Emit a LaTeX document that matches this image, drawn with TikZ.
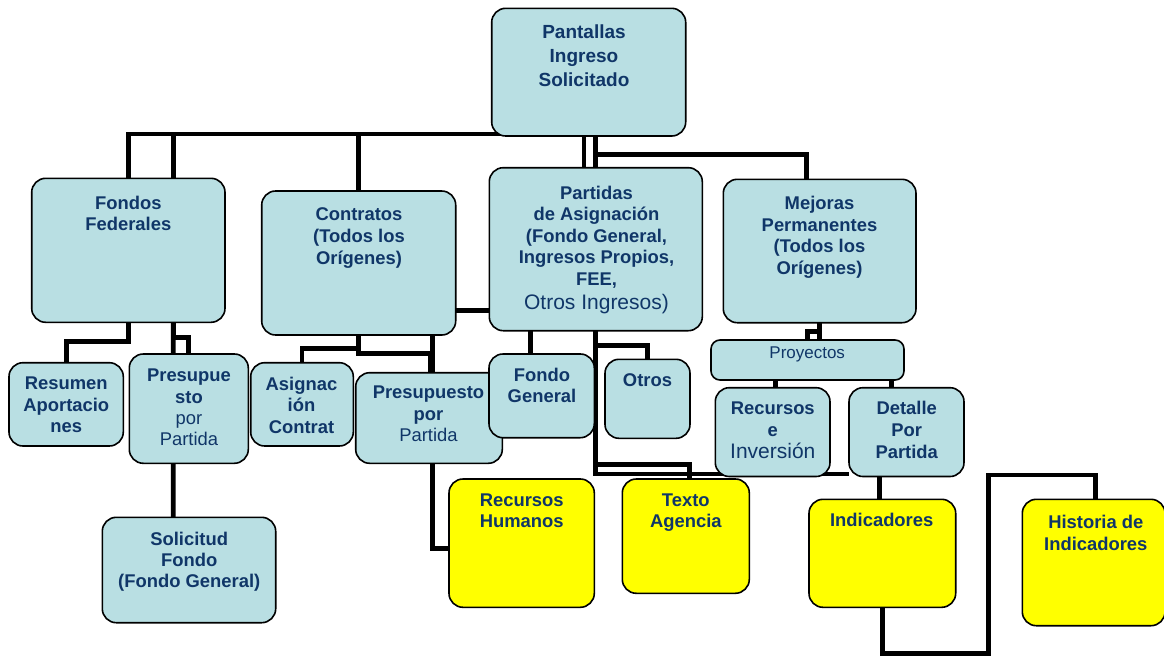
\documentclass[tikz,border=0pt]{standalone}
\usepackage{fontspec}
\setmainfont{Liberation Sans}
\usetikzlibrary{fit,backgrounds}
\definecolor{boxblue}{RGB}{185,223,227}
\definecolor{navy}{RGB}{16,54,104}
\definecolor{hiyellow}{RGB}{255,255,0}
\tikzset{
  bbox/.style={draw=black, line width=1.6pt, rounded corners=14pt, fill=boxblue, inner sep=0pt, outer sep=0pt},
  ybox/.style={bbox, fill=hiyellow},
  txt/.style={text=navy, align=center, inner sep=0pt, anchor=north, font=\bfseries\fontsize{18.4}{21.7}\selectfont},
  conn/.style={line width=4.8pt, draw=black},
}
\begin{document}
\begin{tikzpicture}[x=1pt,y=-1pt]
\useasboundingbox (0,0) rectangle (1164,656);
% boxes
\node[bbox, fit={(491.7,8.3) (685.7,136)}] (pan) {};
\node[bbox, fit={(31.7,178.3) (225,322.3)}] (ff) {};
\node[bbox, fit={(261.7,191) (455.7,335)}] (con) {};
\node[bbox, fit={(489.3,167.7) (702.3,330.7)}] (par) {};
\node[bbox, fit={(723.3,179.3) (916,322.7)}] (mej) {};
\node[bbox, fit={(9,362.7) (123.3,446)}] (res) {};
\node[bbox, fit={(129.3,354) (248.3,463.3)}] (ppl) {};
\node[bbox, fit={(250.7,362.7) (353.3,446)}] (asg) {};
\node[bbox, fit={(355.7,372.7) (502.3,463.3)}] (ppm) {};
\node[bbox, fit={(102.3,517.3) (275.7,622.7)}] (sol) {};
\node[bbox, fit={(489,354) (594.3,437.7)}] (fg) {};
\node[bbox, fit={(605,359.3) (690,438.3)}] (otr) {};
\node[bbox, rounded corners=9pt, fit={(711,340) (904,380)}] (pry) {};
\node[bbox, fit={(715.3,387.7) (830,476.5)}] (rei) {};
\node[bbox, fit={(849,387.7) (964,476.5)}] (det) {};
\node[ybox, fit={(449,479) (594.3,607.3)}] (rh) {};
\node[ybox, fit={(622.3,479) (749.3,593.3)}] (ta) {};
\node[ybox, fit={(809,499.3) (955.7,607.3)}] (ind) {};
\node[ybox, fit={(1022.3,499.3) (1165,625.7)}] (his) {};
% texts
\node[txt, font=\bfseries\fontsize{19}{24}\selectfont] (pan-t) at (584,25) {Pantallas\\Ingreso\\Solicitado};
\node[txt, font=\bfseries\fontsize{18.4}{21}\selectfont] (ff-t) at (128.3,196) {Fondos\\Federales};
\node[txt] (con-t) at (359,207.7) {Contratos\\(Todos los\\Orígenes)};
\node[txt, font=\bfseries\fontsize{18.4}{21.5}\selectfont] (par-t) at (596.5,185.7) {Partidas\\de Asignación\\(Fondo General,\\Ingresos Propios,\\FEE,\\[2.5pt]{\mdseries\fontsize{21}{21.5}\selectfont Otros Ingresos)}};
\node[txt] (mej-t) at (819.5,196) {Mejoras\\Permanentes\\(Todos los\\Orígenes)};
\node[txt] (res-t) at (66.3,376.7) {Resumen\\Aportacio\\nes};
\node[txt, font=\bfseries\fontsize{18.4}{21.3}\selectfont] (ppl-t) at (189,369) {Presupue\\sto\\{\mdseries por}\\{\mdseries Partida}};
\node[txt] (asg-t) at (301.5,376.7) {Asignac\\ión\\Contrat};
\node[txt] (ppm-t) at (428.5,385.7) {Presupuesto\\por\\{\mdseries Partida}};
\node[txt, font=\bfseries\fontsize{18.4}{21.3}\selectfont] (sol-t) at (189.2,531.7) {Solicitud\\Fondo\\(Fondo General)};
\node[txt] (rh-t) at (521.7,493.3) {Recursos\\Humanos};
\node[txt, font=\bfseries\fontsize{18.4}{21}\selectfont] (fg-t) at (542,367.7) {Fondo\\General};
\node[txt] (otr-t) at (647.5,373.3) {Otros};
\node[txt, font=\fontsize{17}{20}\selectfont] (pry-t) at (807.2,346.7) {Proyectos};
\node[txt, font=\bfseries\fontsize{18.4}{21.5}\selectfont] (rei-t) at (772.8,401.7) {Recursos\\e\\[1pt]{\mdseries\fontsize{21}{21.5}\selectfont Inversión}};
\node[txt, font=\bfseries\fontsize{18.4}{22}\selectfont] (det-t) at (906.7,401) {Detalle\\Por\\Partida};
\node[txt] (ta-t) at (685.8,493.3) {Texto\\Agencia};
\node[txt] (ind-t) at (881.7,513.3) {Indicadores};
\node[txt] (his-t) at (1095.8,515) {Historia de\\Indicadores};
% connectors
\begin{scope}[on background layer]
\draw[conn] ([yshift=2pt]pan.south) -| (ff.north);
\draw[conn] ([yshift=2pt]pan.south) -| ([xshift=45pt]ff.north);
\draw[conn] ([yshift=2pt]pan.south) -| (con.north);
\draw[conn] ([xshift=-4.7pt]pan.south) -- ++(0,31.7);
\draw[conn] (par.north |- pan.south) -- (par.north);
\draw[conn] (par.north |- pan.south) -- ++(0,18.5) -| ([xshift=-13.5pt]mej.north);
\draw[conn] ([yshift=-47.5pt]con.east) -- ([yshift=-61.3pt]par.west);
\draw[conn] (ff.south) -- ++(0,19.5) -| (res.north);
\draw[conn] ([xshift=45pt]ff.south) -- ++(0,15) -| (ppl.north);
\draw[conn] ([xshift=45pt]ff.south) -- ([xshift=-15.5pt]ppl.north);
\draw[conn] ([xshift=-15.5pt]ppl.south) -- ([xshift=-15.8pt]sol.north);
\draw[conn] (con.south) -- ++(0,13.8) -| (asg.north);
\draw[conn] (con.south) -- ++(0,18.5) -| ([xshift=1.5pt]ppm.north);
\draw[conn] ([xshift=73.8pt]con.south) -- ([xshift=3.5pt]ppm.north);
\draw[conn] ([xshift=3.8pt]ppm.south) |- ([yshift=-5pt]rh.west);
\draw[conn] ([xshift=-65.6pt]par.south) -- ([xshift=-11.45pt]fg.north);
\draw[conn] (par.south) -- ++(0,14.5) -| (otr.north);
\draw[conn] (par.south) -- ++(0,133.5) -| ([xshift=3.9pt]ta.north);
\draw[conn] (par.south) |- ([yshift=2.5pt]det.south west);
\draw[conn] (mej.south) -- (mej.south |- pry.north);
\draw[conn] (mej.south) -- ++(0,8.5) -| (pry.north);
\draw[conn] ([xshift=-31.85pt]pry.south) -- ([xshift=3pt]rei.north);
\draw[conn] ([xshift=84.3pt]pry.south) -- ([xshift=-14.7pt]det.north);
\draw[conn] ([xshift=-27.3pt]det.south) -- ([xshift=-3.15pt]ind.north);
\draw[conn] (ind.south) -- ++(0,46) -| ++(106,-178.3) -| ([xshift=1.85pt]his.north);
\end{scope}
\end{tikzpicture}
\end{document}
